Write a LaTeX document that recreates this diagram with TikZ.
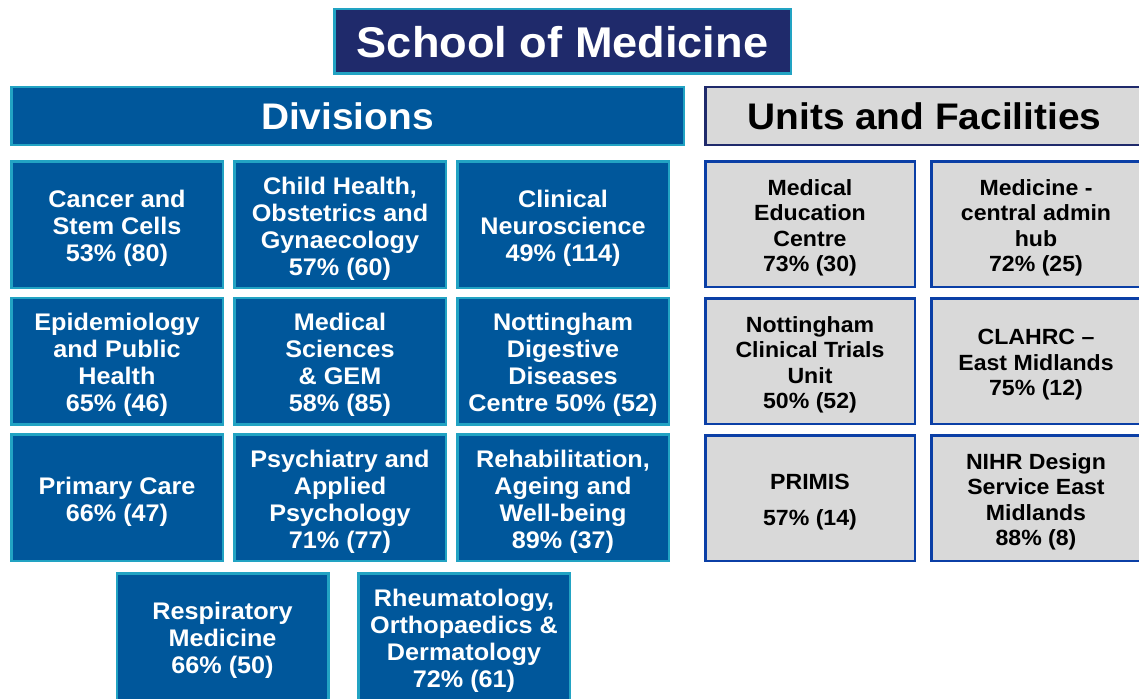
\documentclass[tikz,border=0pt]{standalone}
\usepackage{fontspec}
\setmainfont{Liberation Sans}[FakeStretch=1.05]
\definecolor{navy}{HTML}{1F2A6B}
\definecolor{tealc}{HTML}{22A3C3}
\definecolor{divblue}{HTML}{00579B}
\definecolor{lgray}{HTML}{D9D9D9}
\definecolor{unitb}{HTML}{0B3FA6}
\newcommand{\dbox}[3]{%
  \node[divbox] (#1) at (#2) {};
  \node[divtext] at ([yshift=-4pt]#1.center) {#3};}
\newcommand{\ubox}[3]{%
  \node[unitbox] (#1) at (#2) {};
  \node[unittext] at ([yshift=-4pt]#1.center) {#3};}
\begin{document}
\begin{tikzpicture}[x=1pt,y=-1pt,
  divbox/.style={draw=tealc, line width=2.5pt, fill=divblue,
    inner sep=0pt, minimum width=211.5pt, minimum height=126.5pt},
  divtext/.style={text=white, align=center, inner sep=0pt,
    font=\bfseries\fontsize{24}{27}\selectfont},
  unitbox/.style={draw=unitb, line width=2.5pt, fill=lgray,
    inner sep=0pt, minimum width=209.5pt, minimum height=125.5pt},
  unittext/.style={text=black, align=center, inner sep=0pt,
    font=\bfseries\fontsize{22}{25.5}\selectfont},
  headbox/.style={line width=2.5pt, align=center, inner sep=0pt, text depth=0pt,
    font=\bfseries\fontsize{37}{40}\selectfont}]
\useasboundingbox (0,0) rectangle (1139,698);
\fill[white] (0,0) rectangle (1139,698);

\node[headbox, draw=tealc, fill=navy, text=white, minimum width=456.5pt, minimum height=64.5pt,
  font=\bfseries\fontsize{43}{46}\selectfont] (school) at (562.5,41.5) {School of Medicine};
\node[headbox, draw=tealc, fill=divblue, text=white, minimum width=672.5pt, minimum height=57.5pt] (divs) at (347.5,116) {Divisions};
\node[headbox, draw=navy, fill=lgray, text=black, minimum width=438.5pt, minimum height=57.5pt] (units) at (924.5,116) {Units and Facilities};

\dbox{cancer}{117,224.5}{Cancer and\\Stem Cells\\53\% (80)}
\dbox{child}{340,224.5}{Child Health,\\Obstetrics and\\Gynaecology\\57\% (60)}
\dbox{neuro}{563,224.5}{Clinical\\Neuroscience\\49\% (114)}
\dbox{epi}{117,361}{Epidemiology\\and Public\\Health\\65\% (46)}
\dbox{medsci}{340,361}{Medical\\Sciences\\\& GEM\\58\% (85)}
\dbox{ndd}{563,361}{Nottingham\\Digestive\\Diseases\\Centre 50\% (52)}
\dbox{primary}{117,497.5}{Primary Care\\66\% (47)}
\dbox{psych}{340,497.5}{Psychiatry and\\Applied\\Psychology\\71\% (77)}
\dbox{rehab}{563,497.5}{Rehabilitation,\\Ageing and\\Well-being\\89\% (37)}
\dbox{resp}{222.5,636.5}{Respiratory\\Medicine\\66\% (50)}
\dbox{rheum}{464,636.5}{Rheumatology,\\Orthopaedics \&\\Dermatology\\72\% (61)}

\ubox{mec}{810,224}{Medical\\Education\\Centre\\73\% (30)}
\ubox{hub}{1036,224}{Medicine -\\central admin\\hub\\72\% (25)}
\ubox{nctu}{810,361}{Nottingham\\Clinical Trials\\Unit\\50\% (52)}
\ubox{clahrc}{1036,361}{CLAHRC --\\East Midlands\\75\% (12)}
\ubox{primis}{810,498}{PRIMIS\\[10pt]57\% (14)}
\ubox{nihr}{1036,498}{NIHR Design\\Service East\\Midlands\\88\% (8)}
\end{tikzpicture}
\end{document}
